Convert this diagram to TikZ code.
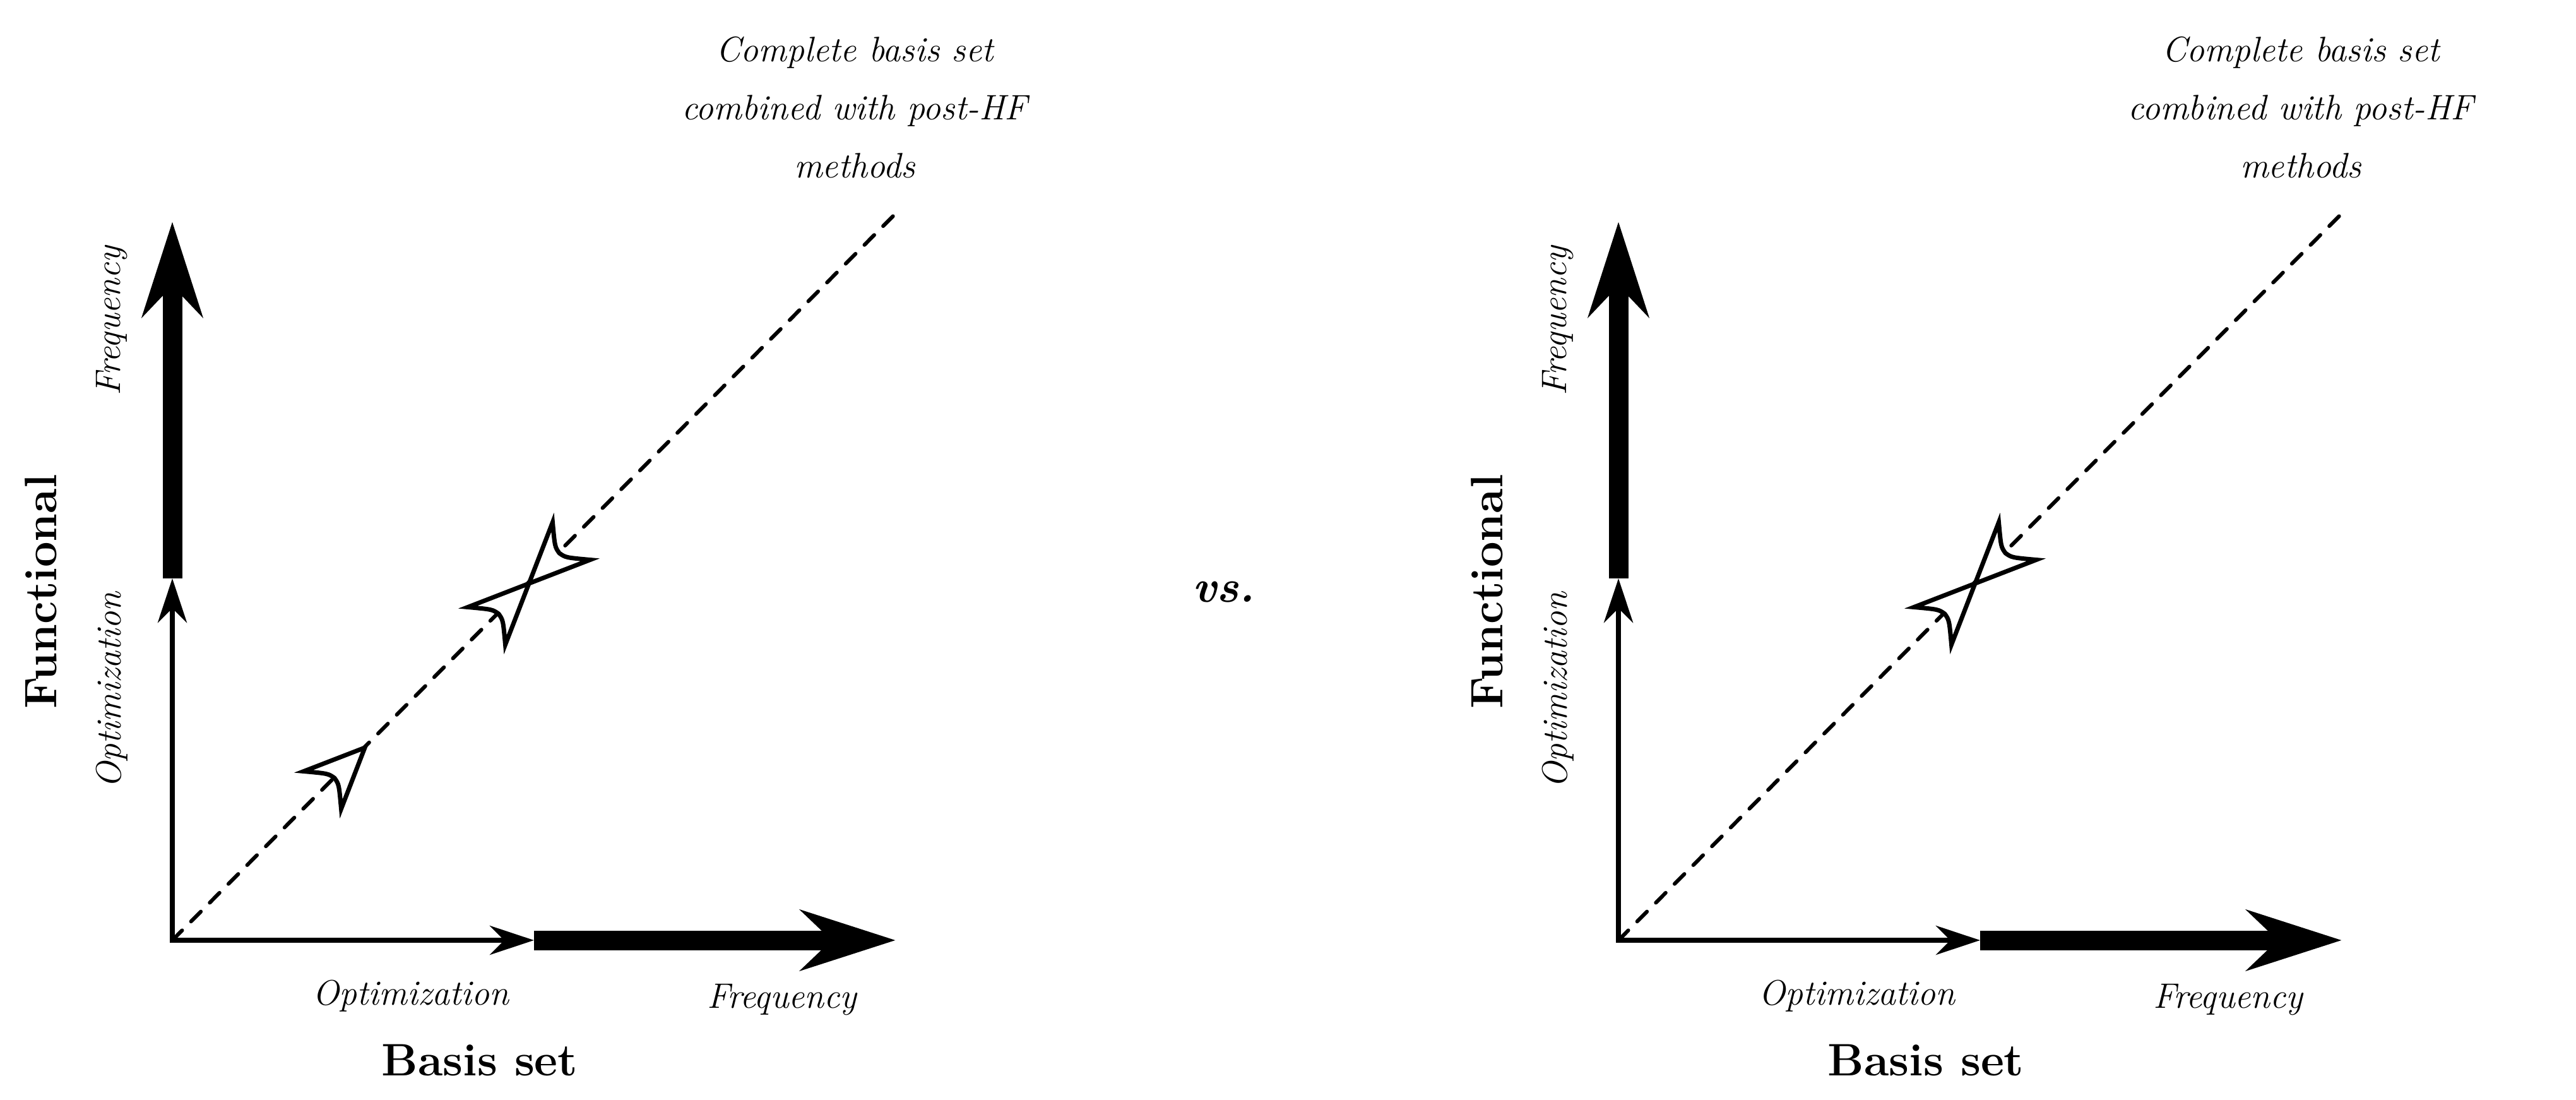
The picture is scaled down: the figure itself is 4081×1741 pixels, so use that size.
\documentclass[tikz,border=0pt]{standalone}
\usetikzlibrary{arrows.meta}
\begin{document}
\begin{tikzpicture}[x=1pt,y=1pt,
  thinarr/.style={line width=8pt,-{Stealth[length=70pt,width=46pt]}},
  thickarr/.style={line width=31pt,-{Stealth[length=150pt,width=95pt]}},
  dashln/.style={line width=6pt,dash pattern=on 22pt off 20pt,line cap=round},
  lab/.style={font=\fontsize{56}{92}\selectfont\itshape},
  big/.style={font=\fontsize{72}{82}\selectfont\bfseries},
  mk/.pic={\draw[line width=7pt,fill=white,line join=miter]
     (0,0) -- (-95,42) .. controls (-70,12) .. (-68,0) .. controls (-70,-12) .. (-95,-42) -- cycle;}]
\useasboundingbox (0,0) rectangle (4081,-1741);
\foreach \ox/\nm/\low in {0/L/1,2291/R/0}{
\begin{scope}[xshift=\ox]
  \coordinate (\nm o) at (273,-1489);
  \coordinate (\nm h) at (846,-1489);
  \coordinate (\nm he) at (1419,-1489);
  \coordinate (\nm v) at (273,-916);
  \coordinate (\nm ve) at (273,-351);
  \coordinate (\nm d) at (1426,-331);
  \draw[dashln] (\nm o) -- (\nm d);
  \draw[thinarr] ([xshift=-4pt]\nm o) -- (\nm h);
  \draw[thickarr] (\nm h) -- (\nm he);
  \draw[thinarr] ([yshift=-4pt]\nm o) -- (\nm v);
  \draw[thickarr] (\nm v) -- (\nm ve);
  \ifnum\low=1 \pic[rotate=45] at (578,-1184) {mk}; \fi
  \pic[rotate=45] at (838,-924) {mk};
  \pic[rotate=225] at (838,-924) {mk};
  \node[lab,align=center] (\nm c) at (1354,-170) {Complete basis set\\combined with post-HF\\methods};
  \node[lab,rotate=90] (\nm f1) at (177,-508) {Frequency};
  \node[lab,rotate=90] (\nm o1) at (177,-1093) {Optimization};
  \node[big,rotate=90] (\nm fn) at (65,-937) {Functional};
  \node[lab] (\nm o2) at (651,-1577) {Optimization};
  \node[lab] (\nm f2) at (1239,-1583) {Frequency};
  \node[big] (\nm b) at (760,-1679) {Basis set};
\end{scope}}
\node[font=\fontsize{72}{82}\selectfont\bfseries\itshape] (vs) at (1939,-937) {vs.};
\end{tikzpicture}
\end{document}
